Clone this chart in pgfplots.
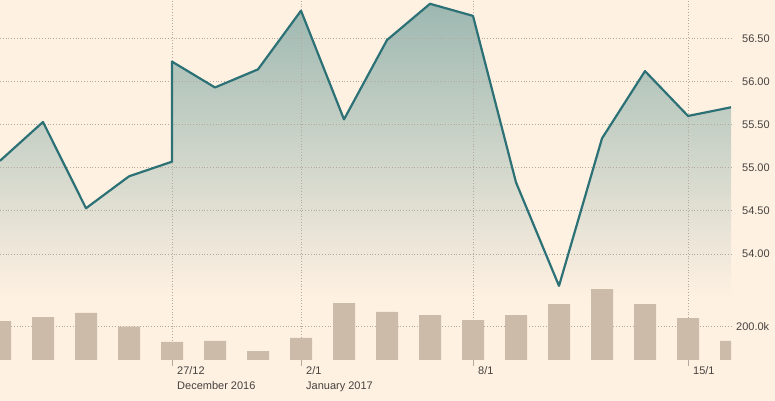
\documentclass[border=0pt]{standalone}
\usepackage{pgfplots}
\pgfplotsset{compat=1.18}
\usepackage{fontspec}
\setmainfont{Liberation Sans}
\definecolor{bg}{HTML}{FFF1E2}
\definecolor{lineteal}{HTML}{2C7176}
\definecolor{filltop}{HTML}{9DB8B1}
\definecolor{barcol}{HTML}{CDBBA9}
\definecolor{gridcol}{HTML}{B3AA9F}
\definecolor{txt}{HTML}{45423F}
\begin{document}
\begin{tikzpicture}
\fill[bg] (0,0) rectangle (775bp,401bp);
\pgfplotsset{base/.style={at={(0,41bp)}, anchor=south west, width=731bp, height=360bp,
  scale only axis, xmin=0, xmax=17, clip=true},
  lbl/.style={font=\fontsize{11bp}{15bp}\selectfont, text=txt}}
% gradient fill
\begin{axis}[base, hide axis, ymin=52.771, ymax=56.944]
\addplot[draw=none, top color=filltop, bottom color=bg] coordinates {
(0,53.467) (0,55.08) (1,55.53) (2,54.53) (3,54.90) (4,55.07) (4,56.23) (5,55.93) (6,56.14)
(7,56.82) (8,55.56) (9,56.48) (10,56.90) (11,56.76) (12,54.83) (13,53.63) (14,55.34)
(15,56.12) (16,55.60) (17,55.70) (17,53.467)};
\end{axis}
% price line, grids, labels
\begin{axis}[base, ymin=52.771, ymax=56.944,
  axis line style={draw=none},
  ytick={54,54.5,55,55.5,56,56.5},
  yticklabels={54.00,54.50,55.00,55.50,56.00,56.50},
  yticklabel pos=right,
  yticklabel style={lbl, anchor=west, inner sep=0pt, xshift=5bp},
  ytick style={draw=none},
  xtick={4,7,11,16},
  xticklabels={{27/12\\December 2016},{2/1\\January 2017},{8/1},{15/1}},
  xtick pos=left, tick align=outside, major tick length=6bp,
  xtick style={gridcol, line width=0.8bp},
  xticklabel style={lbl, anchor=north west, align=left, inner sep=0pt, xshift=5bp},
  xmajorgrids, ymajorgrids,
  grid style={gridcol, line width=0.8bp, dash pattern=on 0.8bp off 2bp}]
\addplot[lineteal, line width=2.2bp, line join=round] coordinates {
(0,55.08) (1,55.53) (2,54.53) (3,54.90) (4,55.07) (4,56.23) (5,55.93) (6,56.14)
(7,56.82) (8,55.56) (9,56.48) (10,56.90) (11,56.76) (12,54.83) (13,53.63) (14,55.34)
(15,56.12) (16,55.60) (17,55.70)};
\end{axis}
% volume bars
\begin{axis}[base, ymin=0, ymax=2136.5,
  axis line style={draw=none},
  xtick=\empty,
  ytick={200}, yticklabels={200.0k},
  yticklabel pos=right,
  yticklabel style={lbl, anchor=west, inner sep=0pt, xshift=5bp},
  ytick style={draw=none},
  ymajorgrids,
  grid style={gridcol, line width=0.8bp, dash pattern=on 0.8bp off 2bp}]
\addplot[ybar, bar width=22bp, bar shift=0pt, fill=barcol, draw=none] coordinates {
(0,231) (1,255) (2,279) (3,198) (4,107) (5,113) (6,53) (7,131) (8,338) (9,285)
(10,267) (11,237) (12,267) (13,332) (14,421) (15,332) (16,249) (17,113)};
\end{axis}
\pgfresetboundingbox
\path[use as bounding box] (0,0) rectangle (775bp,401bp);
\end{tikzpicture}
\end{document}
